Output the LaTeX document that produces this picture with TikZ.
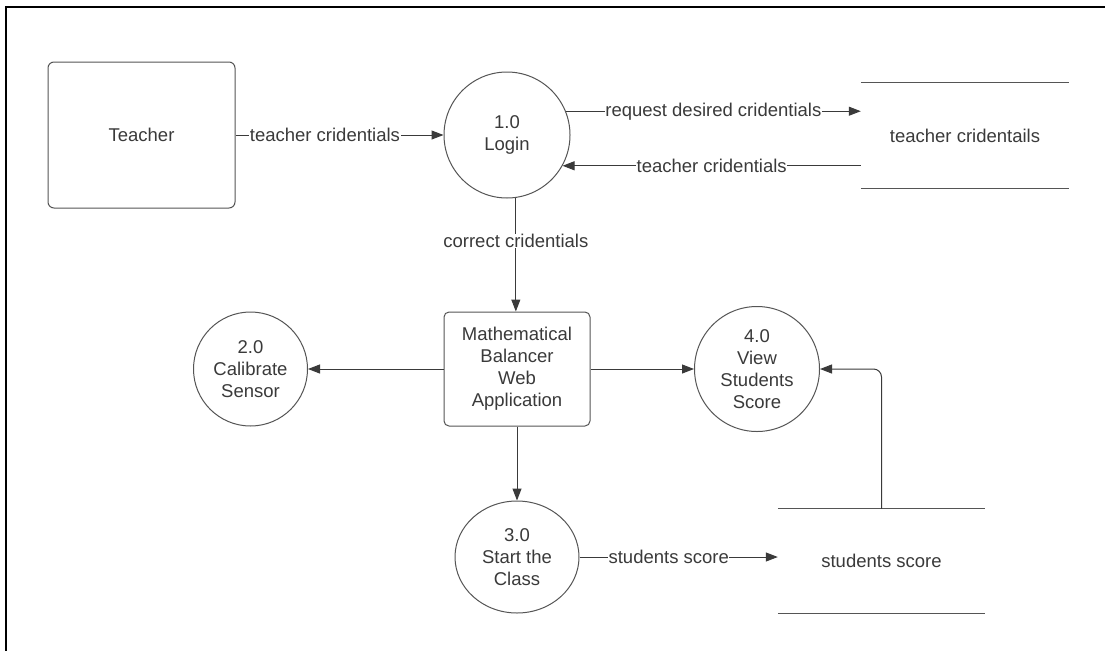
\documentclass[tikz,border=0pt]{standalone}
\usepackage{fontspec}
\setmainfont{Liberation Sans}
\usetikzlibrary{arrows.meta,shapes.geometric,calc}
\definecolor{txt}{HTML}{3a3a3a}
\definecolor{edge}{HTML}{555555}
\definecolor{flow}{HTML}{3a3a3a}
\begin{document}
\begin{tikzpicture}[x=1pt,y=-1pt,
  font=\fontsize{18.5}{22}\selectfont, text=txt,
  proc/.style={circle, draw=edge, line width=1pt, inner sep=0pt, align=center},
  procell/.style={ellipse, draw=edge, line width=1pt, inner sep=0pt, align=center},
  entity/.style={rectangle, rounded corners=6pt, draw=edge, line width=1pt, align=center, inner sep=0pt},
  store/.style={rectangle, inner sep=0pt, align=center},
  storeline/.style={draw=edge, line width=1.2pt},
  flowline/.style={draw=flow, line width=1pt, -{Triangle[length=12pt,width=9pt]}},
  lbl/.style={fill=white, inner sep=0.5pt, text=txt}
]
\useasboundingbox (0,0) rectangle (1105,651);
\fill[white] (0,0) rectangle (1105,651);
\draw[line width=2pt, black] (1105,7) -- (6,7) -- (6,651);

% nodes
\node[entity, minimum width=187pt, minimum height=146pt] (teacher) at (141.5,135) {Teacher};
\node[proc, minimum size=126pt] (login) at (507,135) {1.0\\Login};
\node[store, minimum width=208pt, minimum height=105pt] (tstore) at (965,135.5) {teacher cridentails};
\node[entity, rounded corners=5pt, minimum width=146pt, minimum height=114pt] (app) at (517,369) {Mathematical\\Balancer\\Web\\Application};
\node[proc, minimum size=114pt] (cal) at (250.5,369) {2.0\\Calibrate\\Sensor};
\node[proc, minimum size=125pt] (view) at (757,369) {4.0\\View\\Students\\Score};
\node[procell, minimum width=124pt, minimum height=112pt] (start) at (517,557) {3.0\\Start the\\Class};
\node[store, minimum width=207pt, minimum height=104pt] (sstore) at (881.5,561) {students score};

% store lines
\draw[storeline] (tstore.north west) -- (tstore.north east) (tstore.south west) -- (tstore.south east);
\draw[storeline] (sstore.north west) -- (sstore.north east) (sstore.south west) -- (sstore.south east);

% flows
\draw[flowline] (teacher.east) -- node[lbl, pos=0.43] {teacher cridentials} (login.west);
\draw[flowline] (login.22) -- node[lbl, pos=0.5] {request desired cridentials} (login.22 -| tstore.west);
\draw[flowline] (login.-29.5 -| tstore.west) -- node[lbl, pos=0.5] {teacher cridentials} (login.-29.5);
\draw[flowline] (login.-82) -- node[lbl, pos=0.38] {correct cridentials} (login.-82 |- app.north);
\draw[flowline] (app.west) -- (cal.east);
\draw[flowline] (app.east) -- (view.west);
\draw[flowline] (app.south) -- (start.north);
\draw[flowline] (start.east) -- node[lbl, pos=0.45] {students score} (start.east -| sstore.west);
\draw[flowline, rounded corners=8pt] (sstore.north) |- (view.east);
\end{tikzpicture}
\end{document}
